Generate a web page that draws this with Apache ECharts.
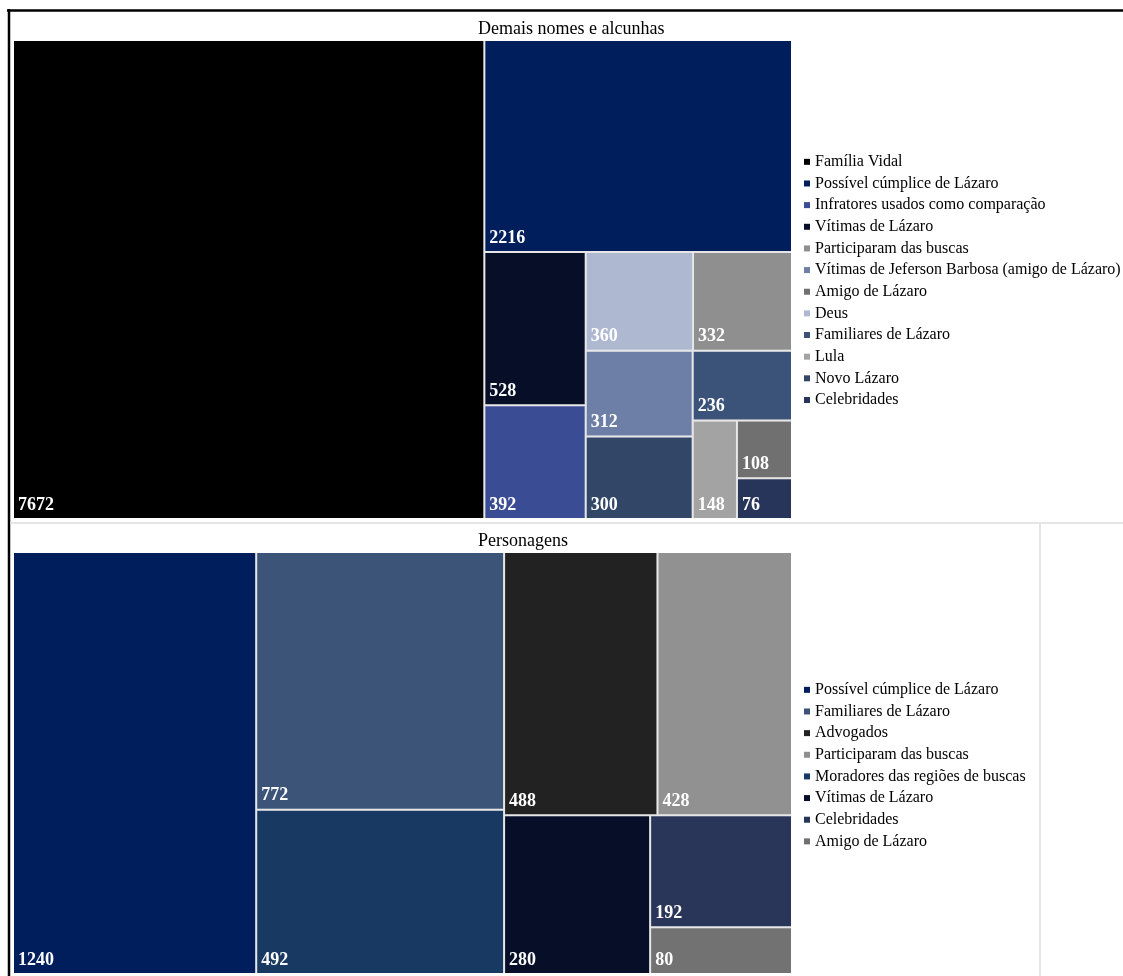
<!DOCTYPE html>
<html>
<head>
<meta charset="utf-8">
<script src="https://cdn.jsdelivr.net/npm/echarts@6/dist/echarts.min.js"></script>
<style>
html,body{margin:0;padding:0;background:#fff;}
#chart{width:1123px;height:976px;}
</style>
</head>
<body>
<div id="chart"></div>
<script>
// Panel 1: "Demais nomes e alcunhas"
const topTitle = 'Demais nomes e alcunhas';
const topLegendNames = ['Família Vidal','Possível cúmplice de Lázaro','Infratores usados como comparação','Vítimas de Lázaro','Participaram das buscas','Vítimas de Jeferson Barbosa (amigo de Lázaro)','Amigo de Lázaro','Deus','Familiares de Lázaro','Lula','Novo Lázaro','Celebridades'];
const topValues = [7672, 2216, 392, 528, 332, 312, 108, 360, 236, 148, 300, 76];
const topColors = ['#000000','#011e5c','#3a4c94','#060f27','#8f8f8f','#6d7fa6','#707070','#aeb8d1','#3c5379','#a3a3a3','#324668','#28355a'];

// Panel 2: "Personagens"
const bottomTitle = 'Personagens';
const bottomLegendNames = ['Possível cúmplice de Lázaro','Familiares de Lázaro','Advogados','Participaram das buscas','Moradores das regiões de buscas','Vítimas de Lázaro','Celebridades','Amigo de Lázaro'];
const bottomValues = [1240, 772, 488, 428, 492, 280, 192, 80];
const bottomColors = ['#011e5c','#3d5479','#222222','#919191','#183a62','#060f27','#293659','#727272'];

const FONT = 'Liberation Serif';

function treeData(names, values, colors) {
  return names.map((n, i) => ({ name: n, value: values[i], itemStyle: { color: colors[i] } }));
}
function pieData(names, values, colors) {
  return names.map((n, i) => ({ name: n, value: values[i], itemStyle: { color: colors[i] } }));
}

function treemapSeries(name, names, values, colors, box, ratio) {
  return {
    type: 'treemap',
    name: name,
    left: box.left, top: box.top, width: box.width, height: box.height,
    roam: false,
    nodeClick: false,
    squareRatio: ratio,
    breadcrumb: { show: false },
    visibleMin: 0,
    label: {
      show: true,
      position: 'insideBottomLeft',
      distance: 4,
      padding: 0,
      formatter: p => String(p.value),
      color: '#ffffff',
      fontWeight: 'bold',
      fontSize: 18,
      fontFamily: FONT
    },
    upperLabel: { show: false },
    itemStyle: { borderWidth: 0, gapWidth: 0 },
    levels: [
      { itemStyle: { borderWidth: 0, gapWidth: 2, borderColor: '#e6e6e6' } },
      { itemStyle: { borderWidth: 0 } }
    ],
    emphasis: { disabled: true },
    data: treeData(names, values, colors)
  };
}

function legendDummy(names, values, colors) {
  return {
    type: 'pie',
    radius: [0, 0],
    center: [-50, -50],
    silent: true,
    label: { show: false },
    labelLine: { show: false },
    data: pieData(names, values, colors)
  };
}

const legendText = { fontFamily: FONT, fontSize: 16, color: '#000', lineHeight: 21.65 };

const chart = echarts.init(document.getElementById('chart'), null, { renderer: 'canvas' });
chart.setOption({
  backgroundColor: '#ffffff',
  animation: false,
  title: [
    { text: topTitle, left: 473, top: 15, textStyle: { fontFamily: FONT, fontSize: 18, fontWeight: 'normal', color: '#000' } },
    { text: bottomTitle, left: 473, top: 527, textStyle: { fontFamily: FONT, fontSize: 18, fontWeight: 'normal', color: '#000' } }
  ],
  legend: [
    { data: topLegendNames, orient: 'vertical', left: 799, top: 146, icon: 'rect', itemWidth: 6, itemHeight: 6, itemGap: 0, textStyle: legendText, selectedMode: false },
    { data: bottomLegendNames, orient: 'vertical', left: 799, top: 674, icon: 'rect', itemWidth: 6, itemHeight: 6, itemGap: 0, textStyle: legendText, selectedMode: false }
  ],
  graphic: [
    { type: 'line', shape: { x1: 7, y1: 10.5, x2: 1123, y2: 10.5 }, style: { stroke: '#000', lineWidth: 2.5 }, silent: true },
    { type: 'line', shape: { x1: 9, y1: 9, x2: 9, y2: 976 }, style: { stroke: '#000', lineWidth: 2.5 }, silent: true },
    { type: 'line', shape: { x1: 10, y1: 523, x2: 1123, y2: 523 }, style: { stroke: '#dcdcdc', lineWidth: 1.5 }, silent: true },
    { type: 'line', shape: { x1: 1040, y1: 523, x2: 1040, y2: 976 }, style: { stroke: '#dcdcdc', lineWidth: 1.5 }, silent: true }
  ],
  series: [
    treemapSeries(topTitle, topLegendNames, topValues, topColors, { left: 14, top: 41, width: 777, height: 477 }, 0.85),
    treemapSeries(bottomTitle, bottomLegendNames, bottomValues, bottomColors, { left: 14, top: 553, width: 777, height: 420 }, 1),
    legendDummy(topLegendNames, topValues, topColors),
    legendDummy(bottomLegendNames, bottomValues, bottomColors)
  ]
});
</script>
</body>
</html>
